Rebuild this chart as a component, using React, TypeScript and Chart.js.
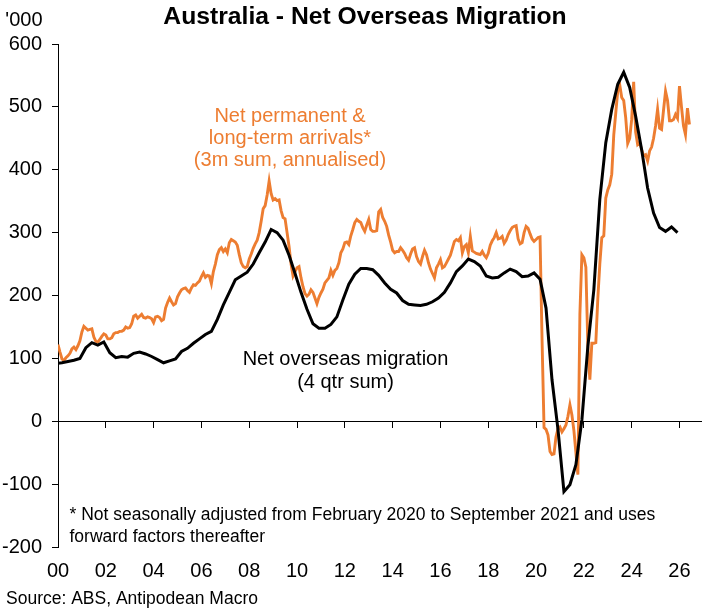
import React, { useEffect, useRef } from "react";
import { Chart, registerables } from "chart.js";

Chart.register(...registerables);

// ---------- data ----------
const X_MIN = 2000;
const X_MAX = 2026.9;
const X_TICKS = [2000, 2002, 2004, 2006, 2008, 2010, 2012, 2014, 2016, 2018, 2020, 2022, 2024, 2026];
const X_TICK_LABELS = ["00", "02", "04", "06", "08", "10", "12", "14", "16", "18", "20", "22", "24", "26"];
const Y_MIN = -200;
const Y_MAX = 600;
const Y_STEP = 100;

// Net permanent & long-term arrivals (3m sum, annualised), '000, monthly from Jan 2000
const ARRIVALS_START_YEAR = 2000;
const ARRIVALS_MONTHLY = [
  // 2000
  122, 110, 99, 97, 101, 104, 108, 115, 118, 114, 120, 128,
  // 2001
  142, 151, 148, 145, 146, 147, 134, 127, 126, 130, 135, 139,
  // 2002
  137, 131, 131, 133, 139, 141, 141, 143, 143, 145, 150, 148,
  // 2003
  149, 155, 167, 169, 164, 167, 170, 165, 164, 166, 165, 163,
  // 2004
  157, 166, 167, 165, 160, 162, 180, 189, 196, 190, 185, 187,
  // 2005
  198, 204, 209, 211, 212, 208, 205, 212, 217, 216, 220, 223,
  // 2006
  230, 236, 229, 232, 231, 219, 238, 250, 265, 273, 276, 270,
  // 2007
  274, 268, 284, 289, 287, 285, 280, 265, 252, 246, 244, 246,
  // 2008
  258, 266, 275, 282, 288, 300, 318, 338, 343, 360, 382, 362,
  // 2009
  352, 354, 351, 352, 335, 324, 322, 300, 278, 250, 231, 238,
  // 2010
  244, 246, 228, 214, 203, 199, 202, 209, 205, 196, 187, 197,
  // 2011
  204, 210, 220, 224, 228, 240, 232, 240, 243, 252, 268, 274,
  // 2012
  284, 285, 281, 295, 305, 316, 321, 318, 316, 308, 302, 312,
  // 2013
  321, 305, 302, 302, 303, 333, 337, 324, 318, 310, 296, 285,
  // 2014
  272, 268, 270, 270, 276, 272, 267, 260, 256, 266, 274, 276,
  // 2015
  262, 254, 250, 262, 272, 265, 252, 242, 235, 228, 244, 250,
  // 2016
  257, 244, 246, 252, 258, 264, 275, 286, 289, 287, 292, 268,
  // 2017
  278, 281, 268, 294, 271, 269, 267, 266, 265, 270, 264, 260,
  // 2018
  267, 280, 287, 292, 300, 290, 291, 294, 283, 288, 297, 303,
  // 2019
  308, 310, 311, 290, 282, 284, 300, 310, 307, 298, 290, 286,
  // 2020
  289, 292, 293, 130, -10, -13, -22, -48, -53, -52, -25, -12,
  // 2021
  -9, -17, -12, -6, 8, 26, 10, -15, -50, -85, 170, 265,
  // 2022
  260, 245, 120, 66, 124, 124, 125, 195, 250, 292, 295, 355,
  // 2023
  368, 376, 393, 455, 490, 525, 535, 515, 510, 483, 442, 450,
  // 2024
  480, 540, 460, 440, 443, 432, 422, 424, 414, 430, 436, 450,
  // 2025
  470, 496, 466, 464, 495, 525, 510, 478, 478, 480, 488, 482,
  // 2026
  533, 500, 470, 456, 498, 472,
];

// Net overseas migration (4 qtr sum), '000, quarterly from Dec quarter 1999
const NOM_START_YEAR = 1999 + 11 / 12;
const NOM_QUARTERLY = [
  92,
  // 2000
  93, 95, 97, 100,
  // 2001
  117, 125, 121, 126,
  // 2002
  109, 101, 103, 102,
  // 2003
  108, 110, 107, 103,
  // 2004
  98, 93, 96, 99,
  // 2005
  111, 116, 124, 131,
  // 2006
  138, 143, 162, 185,
  // 2007
  205, 225, 231, 237,
  // 2008
  250, 268, 285, 305,
  // 2009
  300, 288, 264, 235,
  // 2010
  205, 178, 155, 148,
  // 2011
  148, 154, 166, 193,
  // 2012
  218, 234, 243, 243,
  // 2013
  241, 232, 220, 210,
  // 2014
  204, 192, 186, 185,
  // 2015
  184, 186, 190, 196,
  // 2016
  205, 220, 238, 247,
  // 2017
  258, 254, 247, 231,
  // 2018
  228, 229, 236, 242,
  // 2019
  238, 230, 231, 236,
  // 2020
  226, 180, 66, -13,
  // 2021
  -112, -101, -69, 2,
  // 2022
  119, 209, 353, 443,
  // 2023
  496, 536, 555, 531,
  // 2024
  485, 432, 371, 331,
  // 2025
  308, 302, 309, 300,
];

const TITLE = "Australia - Net Overseas Migration";
const Y_UNIT = "'000";
const ARRIVALS_LABEL = ["Net permanent &", "long-term arrivals*", "(3m sum, annualised)"];
const NOM_LABEL = ["Net overseas migration", "(4 qtr sum)"];
const FOOTNOTE = [
  "* Not seasonally adjusted from February 2020 to September 2021 and uses",
  "forward factors thereafter",
];
const SOURCE = "Source: ABS, Antipodean Macro";

// ---------- styles ----------
const FONT = "'Liberation Sans', Arial, Helvetica, sans-serif";
const ORANGE = "#ED7D31";
const BLACK = "#000000";

const textPlugin = {
  id: "textPlugin",
  afterDraw(chart: any) {
    const ctx = chart.ctx as CanvasRenderingContext2D;
    ctx.save();
    ctx.textBaseline = "alphabetic";

    // title
    ctx.fillStyle = BLACK;
    ctx.font = `bold 24.7px ${FONT}`;
    ctx.textAlign = "center";
    ctx.fillText(TITLE, 365, 23.5);

    // unit
    ctx.font = `20px ${FONT}`;
    ctx.textAlign = "right";
    ctx.fillText(Y_UNIT, 42.5, 26);

    // arrivals label
    ctx.fillStyle = ORANGE;
    ctx.textAlign = "center";
    ctx.font = `20px ${FONT}`;
    ARRIVALS_LABEL.forEach((t, i) => ctx.fillText(t, 290, 121.5 + i * 22));

    // NOM label
    ctx.fillStyle = BLACK;
    NOM_LABEL.forEach((t, i) => ctx.fillText(t, 345.5, 364.5 + i * 23));

    // footnote
    ctx.textAlign = "left";
    ctx.font = `17.5px ${FONT}`;
    FOOTNOTE.forEach((t, i) => ctx.fillText(t, 69.5, 520 + i * 21.7));

    // source
    ctx.fillText(SOURCE, 6, 604);
    ctx.restore();
  },
};

const setTicks = (scale: any) => {
  scale.ticks = X_TICKS.map((v) => ({ value: v }));
};

export default function App() {
  const canvasRef = useRef<HTMLCanvasElement | null>(null);

  useEffect(() => {
    if (!canvasRef.current) return;
    const arrivals = ARRIVALS_MONTHLY.map((v, i) => ({ x: ARRIVALS_START_YEAR + i / 12, y: v }));
    const nom = NOM_QUARTERLY.map((v, i) => ({ x: NOM_START_YEAR + i * 0.25, y: v }));

    const chart = new Chart(canvasRef.current, {
      type: "line",
      data: {
        datasets: [
          {
            label: "Net overseas migration (4 qtr sum)",
            data: nom,
            borderColor: BLACK,
            backgroundColor: BLACK,
            borderWidth: 3,
            pointRadius: 0,
            tension: 0,
            order: 0,
            xAxisID: "x",
            yAxisID: "y",
          },
          {
            label: "Net permanent & long-term arrivals",
            data: arrivals,
            borderColor: ORANGE,
            backgroundColor: ORANGE,
            borderWidth: 2.9,
            pointRadius: 0,
            tension: 0,
            order: 1,
            xAxisID: "x",
            yAxisID: "y",
          },
        ],
      },
      options: {
        responsive: false,
        animation: false,
        events: [],
        layout: { padding: { left: 0, top: 44, right: 25, bottom: 27 } },
        plugins: {
          legend: { display: false },
          title: { display: false },
          tooltip: { enabled: false },
        },
        scales: {
          x: {
            type: "linear",
            position: "bottom",
            min: X_MIN,
            max: X_MAX,
            grid: { display: false, drawTicks: false },
            border: { display: false },
            ticks: {
              color: BLACK,
              font: { family: FONT, size: 20 },
              padding: 12,
              maxRotation: 0,
              autoSkip: false,
              callback: (_v: any, i: number) => X_TICK_LABELS[i],
            },
            afterBuildTicks: setTicks,
            afterFit: (s: any) => {
              s.height = 36;
            },
          },
          xZero: {
            type: "linear",
            axis: "x",
            position: { y: 0 },
            min: X_MIN,
            max: X_MAX,
            grid: {
              display: true,
              drawOnChartArea: false,
              drawTicks: true,
              tickLength: 6,
              color: BLACK,
              lineWidth: 1,
            },
            border: { display: true, color: BLACK, width: 1 },
            ticks: { display: false },
            afterBuildTicks: setTicks,
          },
          y: {
            type: "linear",
            position: "left",
            min: Y_MIN,
            max: Y_MAX,
            ticks: {
              stepSize: Y_STEP,
              color: BLACK,
              font: { family: FONT, size: 20 },
              padding: 10,
            },
            grid: {
              drawOnChartArea: false,
              drawTicks: true,
              tickLength: 6,
              color: BLACK,
              lineWidth: 1,
            },
            border: { display: true, color: BLACK, width: 1 },
            afterFit: (s: any) => {
              s.width = 58;
            },
          },
        } as any,
      },
      plugins: [textPlugin],
    });
    return () => chart.destroy();
  }, []);

  return (
    <div style={{ position: "absolute", left: 0, top: 0, width: 726, height: 610, background: "#fff" }}>
      <canvas ref={canvasRef} width={726} height={610} style={{ display: "block" }} />
    </div>
  );
}
